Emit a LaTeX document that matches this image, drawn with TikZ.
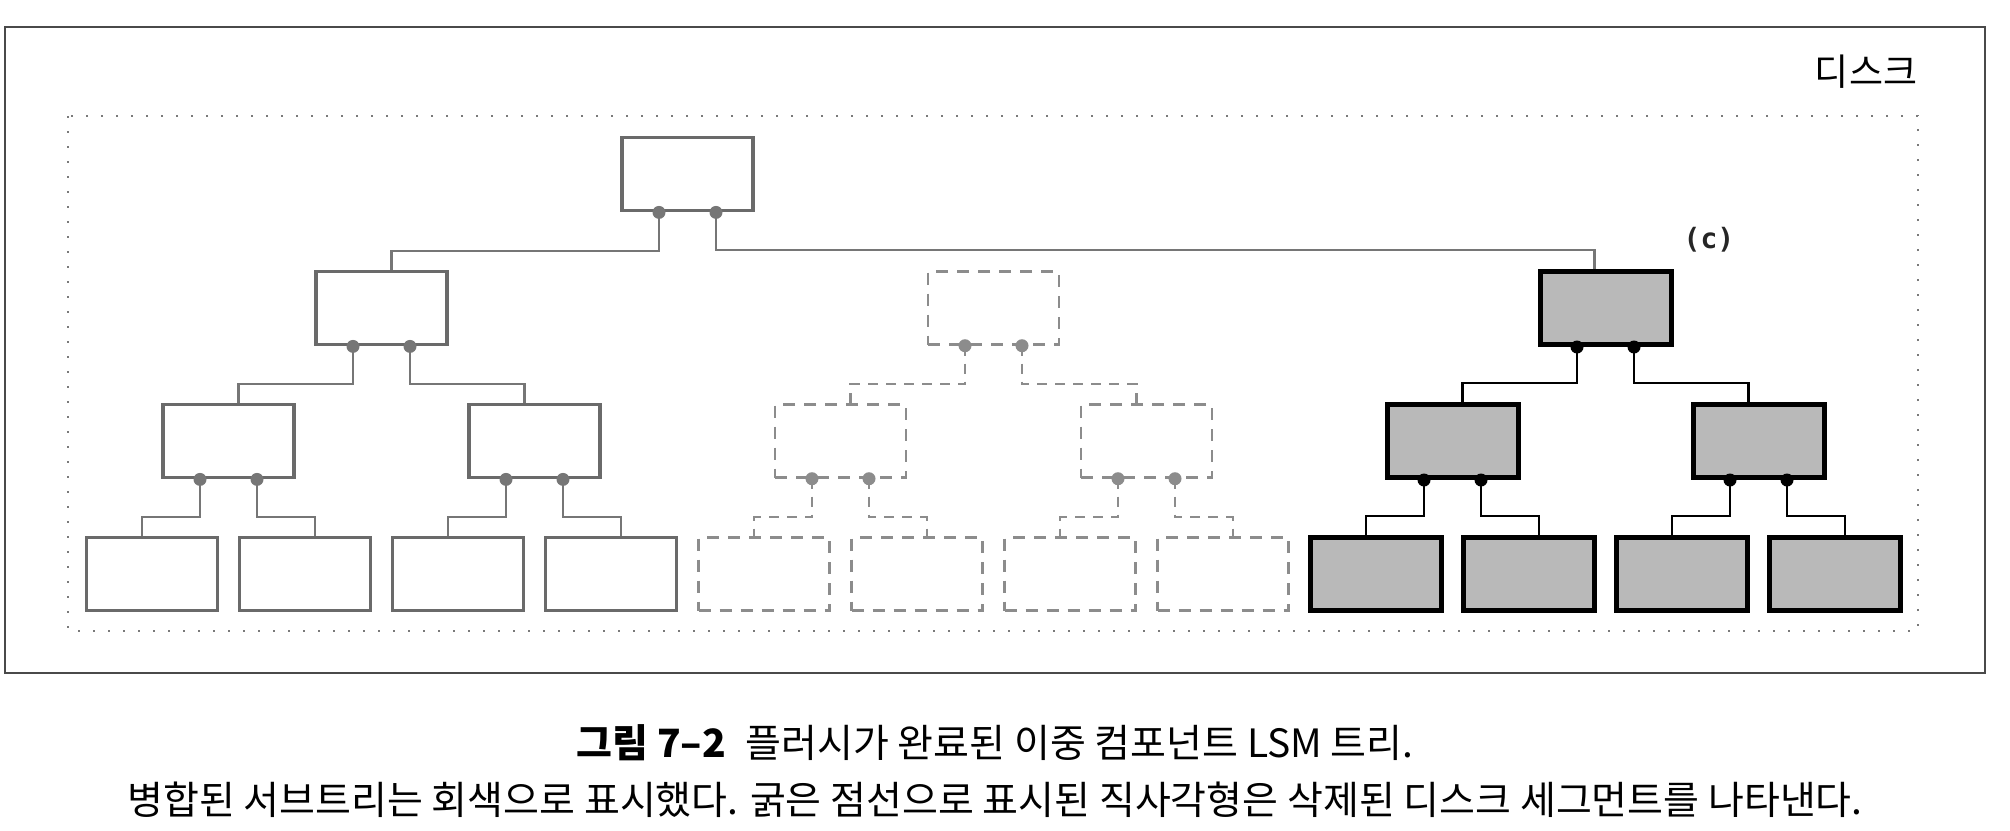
\documentclass[tikz,border=0pt]{standalone}
\usepackage{fontspec}
\newfontfamily\krfont{Noto Sans CJK KR}
\newfontfamily\cmono{DejaVu Sans Mono}
\usetikzlibrary{calc}
\definecolor{gline}{HTML}{6A6A6A}
\definecolor{gconn}{HTML}{767676}
\definecolor{dline}{HTML}{8C8C8C}
\definecolor{bfill}{HTML}{B9B9B9}
\definecolor{framec}{HTML}{4A4A4A}
\definecolor{dotfr}{HTML}{7A7A7A}
\tikzset{
  sbox/.style={rectangle, minimum width=131pt, minimum height=73pt, inner sep=0pt},
  graybox/.style={sbox, draw=gline, line width=3.8pt, fill=white},
  dashbox/.style={sbox, draw=dline, line width=2.4pt, dash pattern=on 12pt off 9pt},
  blackbox/.style={sbox, draw=black, line width=5pt, fill=bfill},
  grayconn/.style={draw=gconn, line width=2.2pt},
  dashconn/.style={draw=dline, line width=2.2pt, dash pattern=on 10pt off 8pt},
  blackconn/.style={draw=black, line width=2.6pt},
  graydot/.style={fill=gconn},
  dashdot/.style={fill=dline},
  blackdot/.style={fill=black},
  lbl/.style={inner sep=0pt},
}
\newcommand\lnk[5]{%
  \draw[#1] ($(#2.south)+(#3,0)$) |- ($(#4.north)+(#5,-19)$) -- ($(#4.north)+(#5,0)$);}
\newcommand\knot[2]{%
  \fill[#1] ($(#2.south)+(-28.5,0)$) circle (6.5pt);
  \fill[#1] ($(#2.south)+(28.5,0)$) circle (6.5pt);}
\newcommand\subtree[3]{% name, connector style, dot style
  \lnk{#2}{#1}{-28.5}{#11}{10}
  \lnk{#2}{#1}{28.5}{#12}{-10}
  \lnk{#2}{#11}{-28.5}{#111}{-10}
  \lnk{#2}{#11}{28.5}{#112}{10}
  \lnk{#2}{#12}{-28.5}{#121}{-10}
  \lnk{#2}{#12}{28.5}{#122}{10}
  \knot{#3}{#1}\knot{#3}{#11}\knot{#3}{#12}}
\begin{document}
\begin{tikzpicture}[x=1pt,y=-1pt]
\useasboundingbox (0,0) rectangle (2010,830);
% frames
\draw[framec, line width=1.6pt] (5,27) rectangle (1985,673);
\draw[dotfr, line width=2.4pt, dash pattern=on 2.4pt off 12.6pt] (68,116) rectangle (1918,631);
\node[lbl, font={\krfont\fontsize{37pt}{40pt}\selectfont}] (disk) at (1866,72) {디스크};
% top root
\node[graybox] (top) at (687.5,174) {};
% left tree (gray)
\node[graybox] (a) at (381.5,308) {};
\node[graybox] (a1) at (228.5,441) {};
\node[graybox] (a2) at (534.5,441) {};
\node[graybox] (a11) at (152,574) {};
\node[graybox] (a12) at (305,574) {};
\node[graybox] (a21) at (458,574) {};
\node[graybox] (a22) at (611,574) {};
% middle tree (deleted, dashed)
\node[dashbox] (b) at (993.5,308) {};
\node[dashbox] (b1) at (840.5,441) {};
\node[dashbox] (b2) at (1146.5,441) {};
\node[dashbox] (b11) at (764,574) {};
\node[dashbox] (b12) at (917,574) {};
\node[dashbox] (b21) at (1070,574) {};
\node[dashbox] (b22) at (1223,574) {};
% right tree (c)
\node[blackbox] (c) at (1605.5,308) {};
\node[blackbox] (c1) at (1452.5,441) {};
\node[blackbox] (c2) at (1758.5,441) {};
\node[blackbox] (c11) at (1376,574) {};
\node[blackbox] (c12) at (1529,574) {};
\node[blackbox] (c21) at (1682,574) {};
\node[blackbox] (c22) at (1835,574) {};
\node[lbl, font={\cmono\bfseries\fontsize{28pt}{30pt}\selectfont}, text=black!85] (lblc) at (1709,240) {(c)};
% connectors
\lnk{grayconn}{top}{-28.5}{a}{10}
\lnk{grayconn}{top}{28.5}{c}{-11}
\knot{graydot}{top}
\subtree{a}{grayconn}{graydot}
\subtree{b}{dashconn}{dashdot}
\subtree{c}{blackconn}{blackdot}
% caption
\node[lbl, font={\krfont\fontsize{39pt}{42pt}\selectfont}] (cap1) at (995,743)
  {{\bfseries 그림 7–2}\hspace{0.5em}플러시가 완료된 이중 컴포넌트 LSM 트리.};
\node[lbl, font={\krfont\fontsize{39pt}{42pt}\selectfont}] (cap2) at (995,800)
  {병합된 서브트리는 회색으로 표시했다. 굵은 점선으로 표시된 직사각형은 삭제된 디스크 세그먼트를 나타낸다.};
\end{tikzpicture}
\end{document}
